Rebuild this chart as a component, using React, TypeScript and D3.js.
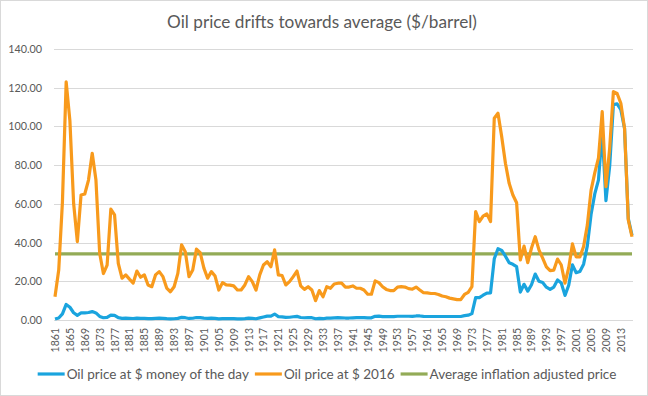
// @ts-nocheck
import { useEffect, useRef } from 'react';
import * as d3 from 'd3';

const firstYear = 1861;
const lastYear = 2016;

// Oil price in money of the day, $/barrel, 1861-2016
const nominal = [
  0.49, 1.05, 3.15, 8.06, 6.59, 3.74, 2.41, 3.63, 3.64, 3.86,
  4.34, 3.64, 1.83, 1.17, 1.35, 2.56, 2.42, 1.19, 0.86, 0.95,
  0.86, 0.78, 1.0, 0.84, 0.88, 0.71, 0.67, 0.88, 0.94, 0.87,
  0.67, 0.56, 0.64, 0.84, 1.36, 1.18, 0.79, 0.91, 1.29, 1.19,
  0.96, 0.8, 0.94, 0.86, 0.62, 0.73, 0.72, 0.72, 0.7, 0.61,
  0.61, 0.74, 0.95, 0.81, 0.64, 1.1, 1.56, 1.98, 2.01, 3.07,
  1.73, 1.61, 1.34, 1.43, 1.68, 1.88, 1.3, 1.17, 1.27, 1.19,
  0.65, 0.87, 0.67, 1.0, 0.97, 1.09, 1.18, 1.13, 1.02, 1.02,
  1.14, 1.19, 1.2, 1.21, 1.05, 1.12, 1.9, 1.99, 1.78, 1.71,
  1.71, 1.71, 1.93, 1.93, 1.93, 1.93, 1.9, 2.08, 2.08, 1.9,
  1.8, 1.8, 1.8, 1.8, 1.8, 1.8, 1.8, 1.8, 1.8, 1.8,
  2.24, 2.48, 3.29, 11.58, 11.53, 12.8, 13.92, 14.02, 31.61, 36.83,
  35.93, 32.97, 29.55, 28.78, 27.56, 14.43, 18.44, 14.92, 18.23, 23.73,
  20.0, 19.32, 16.97, 15.82, 17.02, 20.67, 19.09, 12.72, 17.97, 28.5,
  24.44, 25.02, 28.83, 38.27, 54.52, 65.14, 72.39, 97.26, 61.67, 79.5,
  111.26, 111.67, 108.66, 98.95, 52.39, 43.73
];

// Oil price in $ 2016, $/barrel, 1861-2016
const real2016 = [
  12.0, 25.8, 61.0, 123.0, 103.0, 60.3, 40.5, 64.6, 65.1, 72.3,
  86.1, 72.3, 34.5, 24.0, 28.4, 57.3, 54.3, 29.3, 21.6, 23.3,
  21.1, 19.1, 25.3, 22.1, 23.3, 18.1, 17.2, 23.3, 25.0, 22.4,
  16.5, 14.6, 17.2, 24.1, 38.8, 35.3, 22.4, 25.8, 36.6, 34.8,
  26.8, 21.6, 25.0, 22.7, 15.5, 19.3, 18.1, 18.0, 17.6, 15.5,
  15.5, 18.1, 22.4, 19.8, 15.5, 23.3, 28.4, 30.1, 27.5, 36.2,
  23.3, 23.0, 18.1, 19.8, 22.4, 25.3, 17.6, 15.8, 17.2, 15.5,
  10.0, 15.2, 12.0, 17.2, 16.4, 18.6, 19.0, 19.0, 17.0, 17.0,
  17.6, 16.4, 16.4, 15.5, 13.3, 13.3, 20.2, 19.3, 17.2, 15.8,
  15.2, 15.2, 17.0, 17.2, 17.0, 16.2, 15.9, 17.0, 15.5, 14.1,
  14.0, 13.7, 13.7, 13.2, 12.4, 12.0, 11.3, 10.9, 10.5, 10.5,
  13.2, 14.3, 17.2, 56.0, 50.8, 53.7, 54.8, 50.8, 104.2, 106.8,
  94.7, 81.0, 70.6, 64.6, 60.6, 31.0, 38.2, 29.6, 37.2, 43.0,
  36.2, 32.0, 27.5, 25.5, 25.8, 31.5, 28.4, 19.0, 27.0, 39.3,
  32.6, 32.6, 38.0, 49.0, 67.0, 76.0, 83.7, 107.6, 68.9, 88.7,
  118.0, 117.0, 112.0, 99.0, 51.7, 43.0
];

const averagePrice = 34.2;

const yTicks = [0, 20, 40, 60, 80, 100, 120, 140];

const seriesNames = [
  'Oil price at $ money of the day',
  'Oil price at $ 2016',
  'Average inflation adjusted price'
];
const seriesColors = ['#1aa4de', '#f89a1c', '#93ab57'];

const textColor = '#595959';
const fontFamily = 'Lato, "Open Sans", sans-serif';

const OilChart = () => {
  const svgRef = useRef();

  useEffect(() => {
    const W = 648;
    const H = 396;
    const svg = d3.select(svgRef.current);
    svg.selectAll('*').remove();
    svg.attr('width', W).attr('height', H);

    const years = d3.range(firstYear, lastYear + 1);

    // chart area border
    svg.append('rect')
      .attr('x', 0.5)
      .attr('y', 0.5)
      .attr('width', W - 1)
      .attr('height', H - 1)
      .attr('fill', '#fff')
      .attr('stroke', '#d9d9d9');

    const x = d3.scalePoint().domain(years).range([55, 632]);
    const y = d3.scaleLinear().domain([0, 140]).range([320, 49]);

    // gridlines
    svg.append('g')
      .selectAll('line')
      .data(yTicks)
      .enter()
      .append('line')
      .attr('x1', 54)
      .attr('x2', 633)
      .attr('y1', d => Math.round(y(d)) + 0.5)
      .attr('y2', d => Math.round(y(d)) + 0.5)
      .attr('stroke', '#d9d9d9')
      .attr('stroke-width', 1);

    // y labels
    svg.append('g')
      .selectAll('text')
      .data(yTicks)
      .enter()
      .append('text')
      .attr('x', 42)
      .attr('y', d => y(d) + 4)
      .attr('text-anchor', 'end')
      .attr('fill', textColor)
      .style('font-family', fontFamily)
      .style('font-size', '10.8px')
      .text(d => d3.format('.2f')(d));

    // x labels, every 4 years, rotated
    const xLabels = years.filter((d, i) => i % 4 === 0);
    svg.append('g')
      .selectAll('text')
      .data(xLabels)
      .enter()
      .append('text')
      .attr('transform', d => `translate(${x(d) + 4},328) rotate(-90)`)
      .attr('text-anchor', 'end')
      .attr('fill', textColor)
      .style('font-family', fontFamily)
      .style('font-size', '10.5px')
      .text(d => d);

    // lines
    const line = d3.line()
      .x((d, i) => x(years[i]))
      .y(d => y(d));

    svg.append('path')
      .datum(years.map(() => averagePrice))
      .attr('d', line)
      .attr('fill', 'none')
      .attr('stroke', seriesColors[2])
      .attr('stroke-width', 3.2);

    svg.append('path')
      .datum(nominal)
      .attr('d', line)
      .attr('fill', 'none')
      .attr('stroke', seriesColors[0])
      .attr('stroke-width', 3.2)
      .attr('stroke-linejoin', 'round');

    svg.append('path')
      .datum(real2016)
      .attr('d', line)
      .attr('fill', 'none')
      .attr('stroke', seriesColors[1])
      .attr('stroke-width', 3.2)
      .attr('stroke-linejoin', 'round');

    // title
    svg.append('text')
      .attr('x', 322)
      .attr('y', 28)
      .attr('text-anchor', 'middle')
      .attr('fill', textColor)
      .style('font-family', fontFamily)
      .style('font-size', '17.2px')
      .text('Oil price drifts towards average ($/barrel)');

    // legend
    const legend = svg.append('g');
    const items = legend.selectAll('g')
      .data(seriesNames)
      .enter()
      .append('g');
    items.append('line')
      .attr('x1', 0)
      .attr('x2', 27)
      .attr('y1', 0)
      .attr('y2', 0)
      .attr('stroke', (d, i) => seriesColors[i])
      .attr('stroke-width', 3.2);
    items.append('text')
      .attr('x', 29)
      .attr('y', 4.6)
      .attr('fill', textColor)
      .style('font-family', fontFamily)
      .style('font-size', '13.5px')
      .text(d => d);

    let offset = 0;
    const widths = [];
    items.each(function () {
      const w = 29 + d3.select(this).select('text').node().getComputedTextLength();
      widths.push(w);
    });
    const gap = 6;
    const total = d3.sum(widths) + gap * (widths.length - 1);
    let start = 327 - total / 2;
    items.attr('transform', (d, i) => {
      const t = `translate(${start + offset},374)`;
      offset += widths[i] + gap;
      return t;
    });
  }, []);

  return <svg ref={svgRef} style={{ position: 'absolute', left: 0, top: 0 }}></svg>;
};

export default function App() {
  return <OilChart />;
}
